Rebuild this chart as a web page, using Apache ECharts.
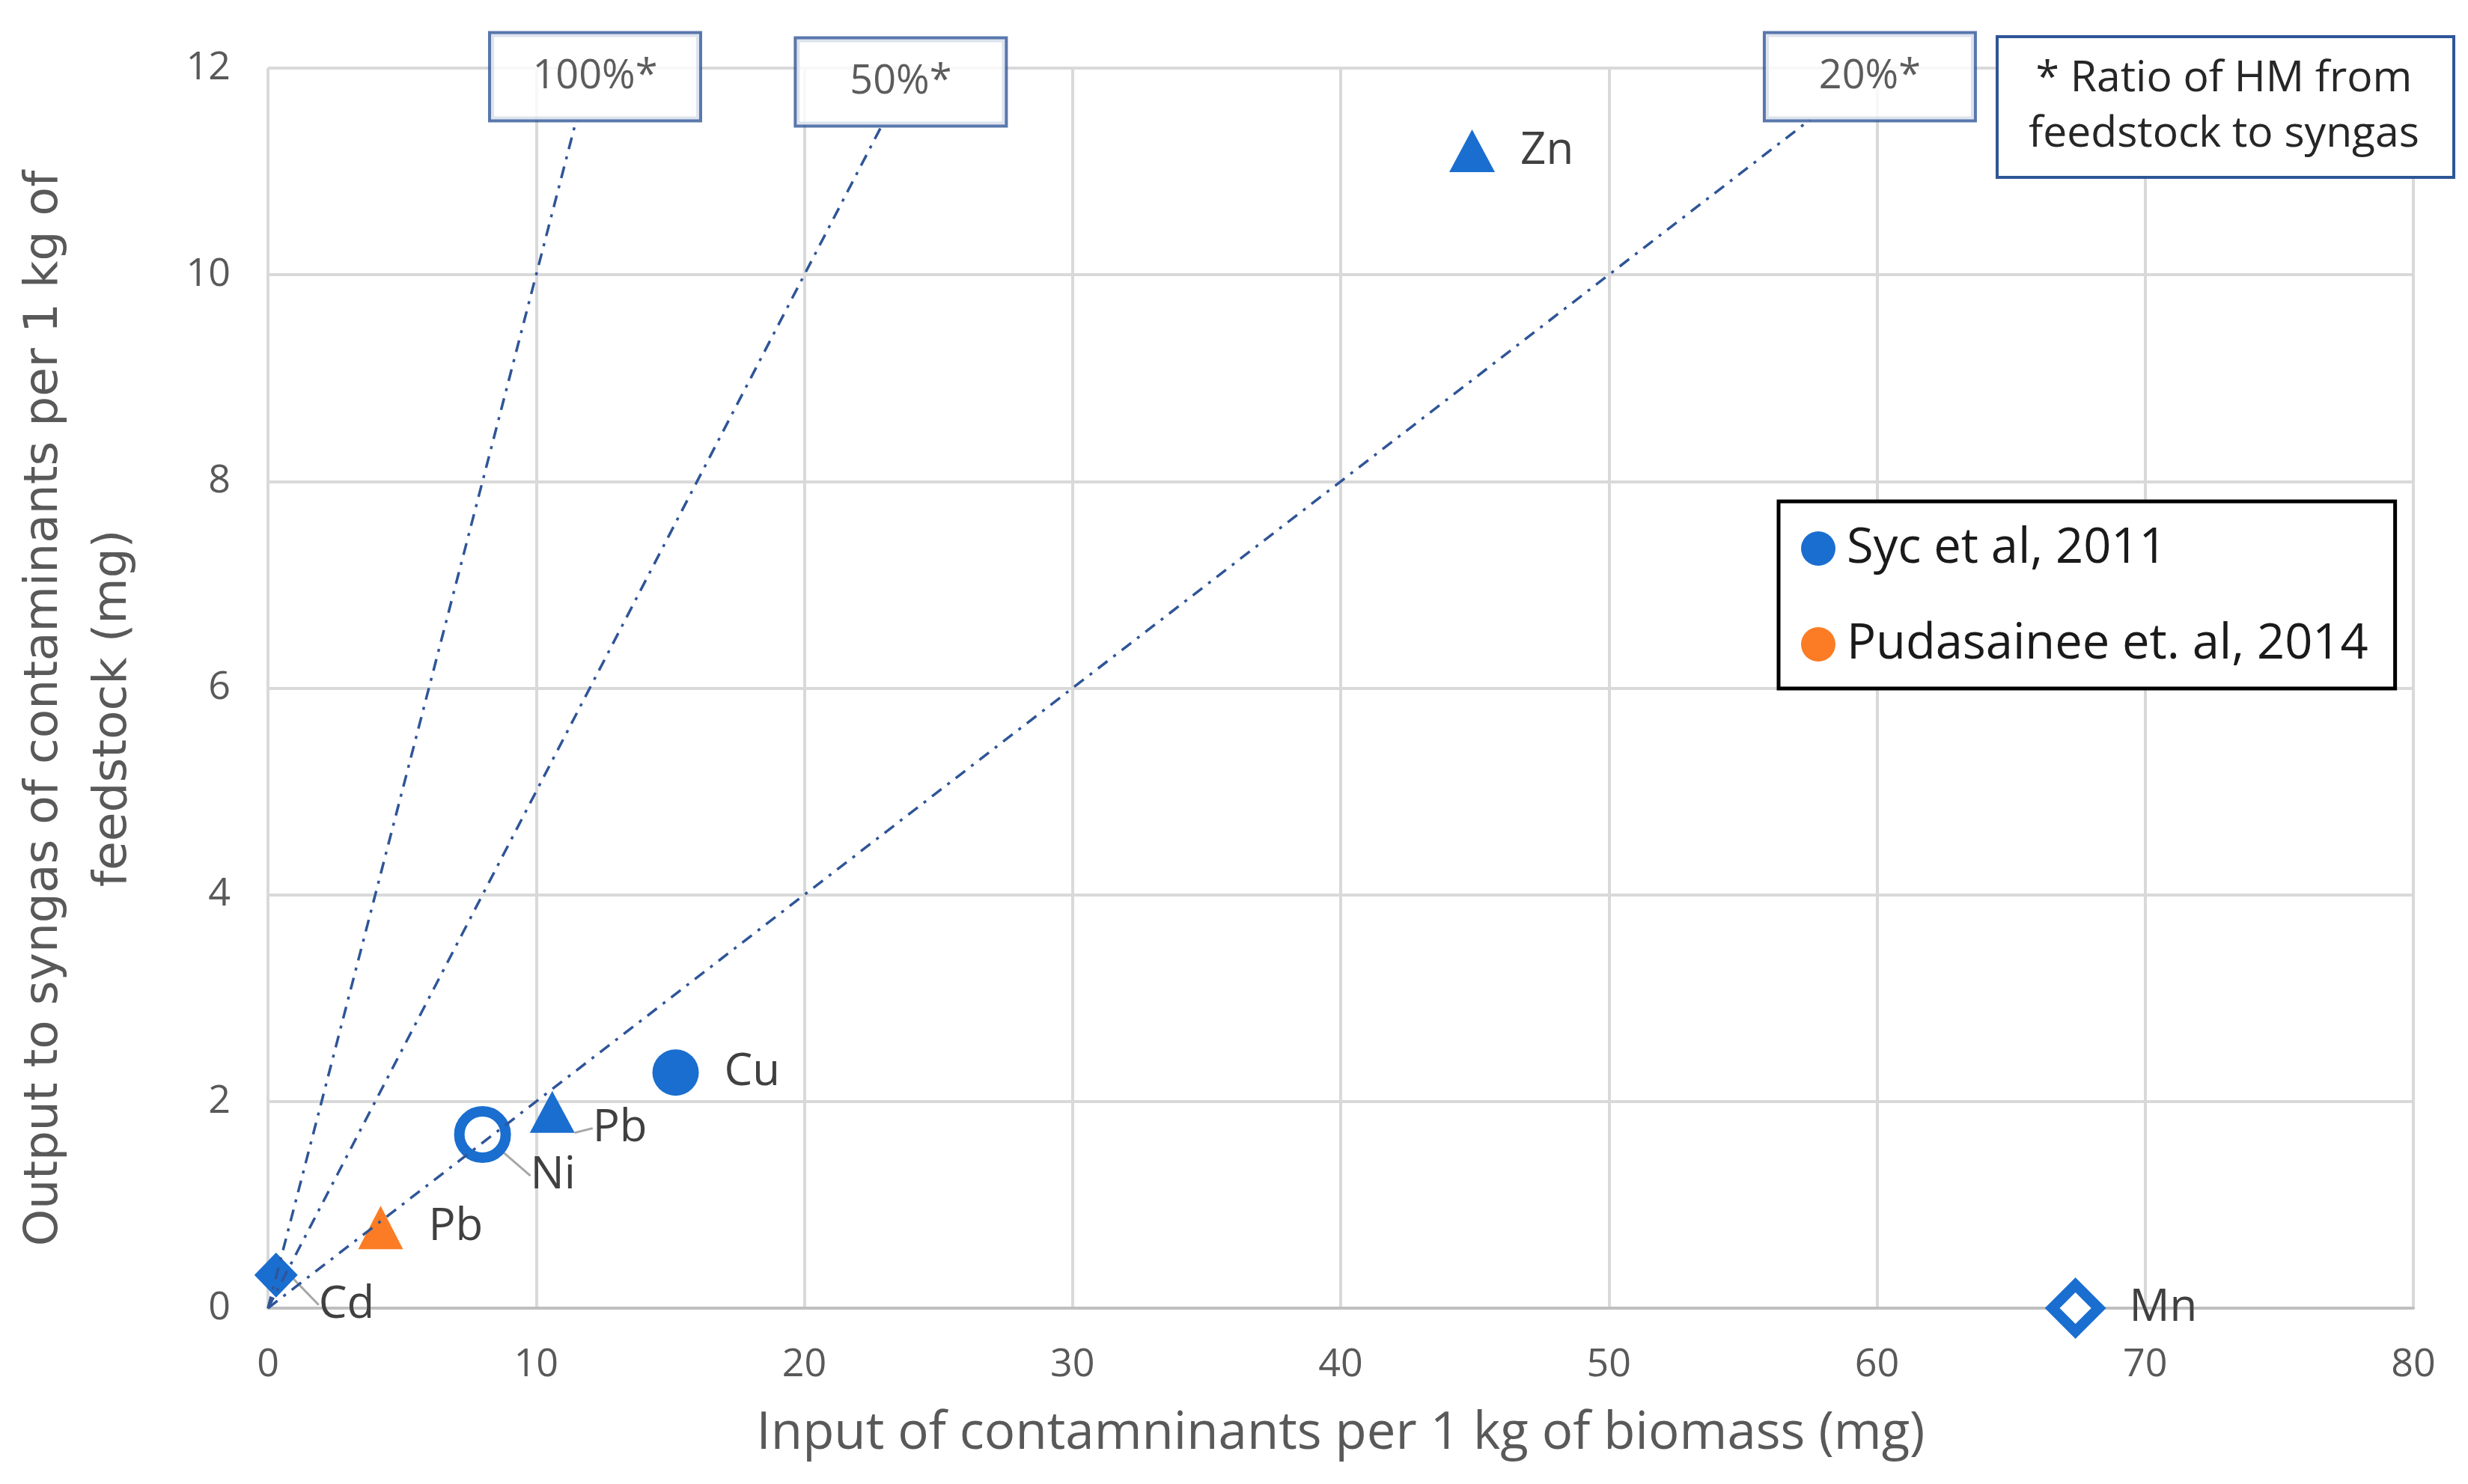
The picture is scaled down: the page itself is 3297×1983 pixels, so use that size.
<!DOCTYPE html>
<html>
<head>
<meta charset="utf-8">
<script src="https://cdn.jsdelivr.net/npm/echarts@6/dist/echarts.min.js"></script>
<style>
  html, body { margin: 0; padding: 0; background: #fff; }
  #chart { width: 3297px; height: 1983px; }
</style>
</head>
<body>
<div id="chart"></div>
<script>
// data (mg per 1 kg)
var sycMetals = ['Cd', 'Ni', 'Pb', 'Cu', 'Zn', 'Mn'];
var sycInput = [0.3, 8.0, 10.6, 15.2, 44.9, 67.4];
var sycOutput = [0.32, 1.68, 1.9, 2.28, 11.2, 0];

var pudMetals = ['Pb'];
var pudInput = [4.2];
var pudOutput = [0.78];

var ratioNames = ['100%*', '50%*', '20%*'];
var ratioValues = [1, 0.5, 0.2];
var ratioEndY = [11.5, 11.45, 11.5];

var seriesNames = ['Syc et al, 2011', 'Pudasainee et. al, 2014'];
var noteText = '* Ratio of HM from\nfeedstock to syngas';

// styling
var blue = '#1a6ecf';
var orange = '#fb7c24';
var lineBlue = '#2f5597';
var gridGray = '#d9d9d9';
var txt = 'Open Sans, Noto Sans, sans-serif';

var symbolStyle = {
    Cd: { symbol: 'diamond', symbolSize: [58, 60] },
    Ni: { symbol: 'circle', symbolSize: 62, hollow: true },
    Pb: { symbol: 'triangle', symbolSize: [60, 56] },
    Cu: { symbol: 'circle', symbolSize: 62 },
    Zn: { symbol: 'triangle', symbolSize: [61, 57] },
    Mn: { symbol: 'diamond', symbolSize: [62, 62], hollow: true }
};
// labels pulled away with a leader line
var labelShift = { Cd: [-6, 40], Ni: [-8, 55], Pb: [-10, 22] };
var boxShift = [25, 25, 80];

var myChart = echarts.init(document.getElementById('chart'));

var sycData = sycMetals.map(function (m, i) {
    var s = symbolStyle[m];
    var item = {
        name: m,
        value: [sycInput[i], sycOutput[i]],
        symbol: s.symbol,
        symbolSize: s.symbolSize
    };
    if (s.hollow) {
        item.itemStyle = { color: '#fff', borderColor: blue, borderWidth: 14, opacity: 1 };
    }
    if (labelShift[m]) {
        item.labelLine = { show: true };
    }
    return item;
});

var pudData = pudMetals.map(function (m, i) {
    return { name: m, value: [pudInput[i], pudOutput[i]], symbol: 'triangle', symbolSize: [60, 58] };
});

var ratioSeries = ratioValues.map(function (r, i) {
    return {
        type: 'line',
        name: ratioNames[i],
        data: [[0, 0], [ratioEndY[i] / r, ratioEndY[i]]],
        symbol: 'none',
        silent: true,
        z: 6,
        lineStyle: { color: lineBlue, width: 3.5, type: [16, 10, 4, 10] }
    };
});

var boxData = ratioValues.map(function (r, i) {
    return {
        name: ratioNames[i],
        value: [ratioEndY[i] / r, ratioEndY[i]],
        label: { offset: [boxShift[i], 0] }
    };
});

var pointLabel = {
    show: true,
    position: 'right',
    distance: 34,
    formatter: '{b}',
    color: '#404040',
    fontSize: 60,
    fontFamily: txt
};

option = {
    backgroundColor: '#fff',
    animation: false,
    grid: {
        left: 358,
        right: 73,
        top: 91,
        bottom: 235,
        containLabel: false,
        outerBoundsMode: 'none'
    },
    legend: {
        orient: 'vertical',
        left: 2376,
        top: 670,
        itemWidth: 46,
        itemHeight: 46,
        itemGap: 62,
        padding: [30, 36, 26, 30],
        borderColor: '#000',
        borderWidth: 5,
        backgroundColor: '#fff',
        textStyle: {
            color: '#1a1a1a',
            fontSize: 65,
            lineHeight: 66,
            fontFamily: txt,
            padding: [0, 0, 0, 10]
        },
        data: [
            { name: seriesNames[0], icon: 'circle', itemStyle: { color: blue, borderWidth: 0, opacity: 1 } },
            { name: seriesNames[1], icon: 'circle', itemStyle: { color: orange, borderWidth: 0, opacity: 1 } }
        ]
    },
    xAxis: {
        type: 'value',
        min: 0,
        max: 80,
        interval: 10,
        name: 'Input of contamninants per 1 kg of biomass (mg)',
        nameLocation: 'middle',
        nameGap: 134,
        nameTextStyle: { color: '#595959', fontSize: 69, fontFamily: txt },
        axisLine: { show: true, lineStyle: { color: '#bfbfbf', width: 4 } },
        axisTick: { show: false },
        axisLabel: { color: '#595959', fontSize: 52, margin: 50, fontFamily: txt },
        splitLine: { lineStyle: { color: gridGray, width: 4 } }
    },
    yAxis: {
        type: 'value',
        min: 0,
        max: 12,
        interval: 2,
        name: 'Output to syngas of contaminants per 1 kg of\nfeedstock (mg)',
        nameLocation: 'middle',
        nameGap: 160,
        nameTextStyle: {
            color: '#595959',
            fontSize: 63,
            lineHeight: 92,
            padding: [0, 54, 0, 0],
            fontFamily: 'DejaVu Sans, Verdana, sans-serif'
        },
        axisLine: { show: false },
        axisTick: { show: false },
        axisLabel: { color: '#595959', fontSize: 52, margin: 50, fontFamily: txt },
        splitLine: { lineStyle: { color: gridGray, width: 4 } }
    },
    graphic: [
        {
            type: 'rect',
            left: 2666,
            top: 47,
            z: 100,
            shape: { width: 610, height: 188 },
            style: { fill: '#fff', stroke: lineBlue, lineWidth: 4 }
        },
        {
            type: 'text',
            x: 2971,
            y: 143,
            z: 101,
            style: {
                text: noteText,
                align: 'center',
                verticalAlign: 'middle',
                fill: '#262626',
                fontSize: 57,
                lineHeight: 74,
                fontFamily: txt
            }
        }
    ],
    series: ratioSeries.concat([
        {
            type: 'scatter',
            name: 'ratio boxes',
            data: boxData,
            symbolSize: 1,
            silent: true,
            clip: false,
            z: 7,
            itemStyle: { color: 'transparent' },
            label: {
                show: true,
                position: 'top',
                distance: 0,
                formatter: '{b}',
                color: '#333',
                fontSize: 54,
                fontFamily: txt,
                backgroundColor: '#fff',
                borderColor: lineBlue,
                borderWidth: 4,
                width: 278,
                height: 114,
                lineHeight: 114,
                align: 'center'
            }
        },
        {
            type: 'scatter',
            name: seriesNames[0],
            data: sycData,
            clip: false,
            z: 3,
            itemStyle: { color: blue, opacity: 1 },
            label: pointLabel,
            labelLine: { show: false, lineStyle: { color: '#a6a6a6', width: 3 } },
            labelLayout: function (params) {
                var m = sycMetals[params.dataIndex];
                if (labelShift[m]) {
                    return { dx: labelShift[m][0], dy: labelShift[m][1] };
                }
                return {};
            }
        },
        {
            type: 'scatter',
            name: seriesNames[1],
            data: pudData,
            clip: false,
            z: 3,
            itemStyle: { color: orange, opacity: 1 },
            label: pointLabel
        }
    ])
};

myChart.setOption(option);
</script>
</body>
</html>
